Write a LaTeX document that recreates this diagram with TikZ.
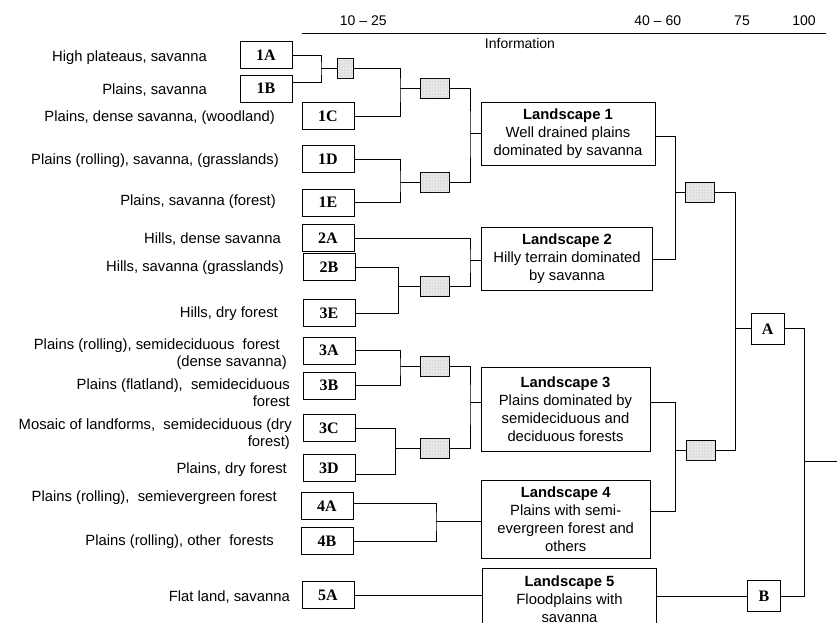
\documentclass[tikz,border=0pt]{standalone}
\usepackage{fontspec}
\setmainfont{Liberation Sans}
\newfontfamily\codefont{Liberation Serif}
\usetikzlibrary{patterns,calc}
\begin{document}
\begin{tikzpicture}[x=1pt,y=-1pt,
  every node/.style={inner sep=0pt},
  lab/.style={anchor=east, font=\fontsize{14.8}{17}\selectfont, align=right},
  code/.style={draw, line width=0.9pt, minimum width=52pt, minimum height=27pt, font=\codefont\bfseries\fontsize{16}{18}\selectfont},
  letterbox/.style={draw, line width=0.9pt, minimum width=33pt, minimum height=31pt, font=\codefont\bfseries\fontsize{16}{18}\selectfont},
  shd/.style={draw, line width=0.8pt, fill=gray!18, postaction={pattern=dots, pattern color=gray!75}, minimum height=20pt},
  land/.style={draw, line width=0.9pt, align=center, font=\fontsize{14.8}{18}\selectfont},
  conn/.style={line width=0.8pt},
  hdr/.style={font=\fontsize{14}{16}\selectfont}
]
\useasboundingbox (0,0) rectangle (837,622);
\clip (0,0) rectangle (837,622);

% header
\node[hdr] (t1) at (363.3,20.7) {10 -- 25};
\node[hdr] (t2) at (657.8,20.7) {40 -- 60};
\node[hdr] (t3) at (742,20.7) {75};
\node[hdr] (t4) at (804,20.7) {100};
\coordinate (axl) at (302,33.3);
\coordinate (axr) at (826,33.3);
\draw[conn] (axl) -- (axr);
\node[hdr] (info) at (520,43.3) {Information};

% code boxes
\node[code] (c1A) at (266,55) {1A};
\node[code] (c1B) at (266,88.5) {1B};
\node[code] (c1C) at (328,116) {1C};
\node[code] (c1D) at (328,159) {1D};
\node[code] (c1E) at (328,202.5) {1E};
\node[code] (c2A) at (328,238) {2A};
\node[code] (c2B) at (329,267) {2B};
\node[code] (c3E) at (329,313) {3E};
\node[code] (c3A) at (329,350.5) {3A};
\node[code] (c3B) at (329,385.5) {3B};
\node[code] (c3C) at (329,428) {3C};
\node[code] (c3D) at (329,468) {3D};
\node[code] (c4A) at (327,506) {4A};
\node[code] (c4B) at (327,541) {4B};
\node[code] (c5A) at (328,595) {5A};

% labels
\node[lab] (l1A) at (207,58) {High plateaus, savanna};
\node[lab] (l1B) at (207,90) {Plains, savanna};
\node[lab] (l1C) at (275,118) {Plains, dense savanna, (woodland)};
\node[lab] (l1D) at (279,161) {Plains (rolling), savanna, (grasslands)};
\node[lab] (l1E) at (276,202) {Plains, savanna (forest)};
\node[lab] (l2A) at (281,239) {Hills, dense savanna};
\node[lab] (l2B) at (284,268) {Hills, savanna (grasslands)};
\node[lab] (l3E) at (278,314) {Hills, dry forest};
\node[lab] (l3A) at (287,354) {Plains (rolling), semideciduous\ \ forest\kern7pt\\(dense savanna)};
\node[lab] (l3B) at (290,392.5) {Plains (flatland),\ \ semideciduous\\forest};
\node[lab] (l3C) at (292,434) {Mosaic of landforms,\ \ semideciduous (dry\\forest)\kern2pt};
\node[lab] (l3D) at (287,470) {Plains, dry forest};
\node[lab] (l4A) at (277,498) {Plains (rolling),\ \ semievergreen forest};
\node[lab] (l4B) at (274,541.7) {Plains (rolling), other\ \ forests};
\node[lab] (l5A) at (290,596.7) {Flat land, savanna};

% shaded boxes
\node[shd, minimum width=15.5pt] (s1) at (345.5,68) {};
\node[shd, minimum width=29pt] (s2) at (435.3,88) {};
\node[shd, minimum width=29pt] (s3) at (435.3,182) {};
\node[shd, minimum width=28.5pt] (s4) at (700,192.5) {};
\node[shd, minimum width=29pt] (s5) at (701,450.5) {};
\node[shd, minimum width=29pt] (s6) at (435.3,286.5) {};
\node[shd, minimum width=29pt] (s7) at (435.3,366) {};
\node[shd, minimum width=29pt] (s8) at (435.3,448) {};

% landscapes
\node[land, minimum width=174pt, minimum height=63.3pt] (L1) at (568,134) {\textbf{Landscape 1}\\Well drained plains\\dominated by savanna};
\node[land, minimum width=171.7pt, minimum height=63.7pt] (L2) at (567,259) {\textbf{Landscape 2}\\Hilly terrain dominated\\by savanna};
\node[land, minimum width=169pt, minimum height=84.7pt] (L3) at (565.5,409.5) {\textbf{Landscape 3}\\Plains dominated by\\semideciduous and\\deciduous forests};
\node[land, minimum width=169.3pt, minimum height=78pt] (L4) at (565.7,519) {\textbf{Landscape 4}\\Plains with semi-\\evergreen forest and\\others};
\node[land, minimum width=174.4pt, minimum height=62.7pt] (L5) at (569.5,599.5) {\textbf{Landscape 5}\\Floodplains with\\savanna};

% A and B
\node[letterbox] (A) at (767.7,328.8) {A};
\node[letterbox] (B) at (764,596) {B};

% junction coordinates
\coordinate (b1) at (321,68);
\coordinate (b2) at (400,88);
\coordinate (b3) at (400,182);
\coordinate (b4) at (470,133);
\coordinate (b5) at (675,192.5);
\coordinate (b6) at (470,260);
\coordinate (b7) at (735,328.8);
\coordinate (b8) at (398.3,286.5);
\coordinate (b9) at (804.3,461.7);
\coordinate (b10) at (400,366);
\coordinate (b11) at (395.7,448);
\coordinate (b12) at (470,402.5);
\coordinate (b13) at (675,450.5);
\coordinate (b14) at (436,521);
\coordinate (outR) at (837,461.7);

% connectors
\draw[conn] (c1A.east) -| (b1) |- ([yshift=6.5pt]c1B.east);
\draw[conn] (b1) -- (s1.west);
\draw[conn] (s1.east) -| (b2) |- (c1C.east);
\draw[conn] (b2) -- (s2.west);
\draw[conn] (c1D.east) -| (b3) |- (c1E.east);
\draw[conn] (b3) -- (s3.west);
\draw[conn] (s2.east) -| (b4) |- (s3.east);
\draw[conn] (b4) -- (L1.west |- b4);

\draw[conn] (c2A.east) -| (b6) |- (s6.east);
\draw[conn] (b6) -- (L2.west |- b6);
\draw[conn] (c2B.east) -| (b8) |- (c3E.east);
\draw[conn] (b8) -- (s6.west);

\draw[conn] (c3A.east) -| (b10) |- (c3B.east);
\draw[conn] (b10) -- (s7.west);
\draw[conn] (c3C.east) -| (b11) |- ([yshift=-6pt]c3D.east);
\draw[conn] (b11) -- (s8.west);
\draw[conn] (s7.east) -| (b12) |- (s8.east);
\draw[conn] (b12) -- (L3.west |- b12);

\draw[conn] ([yshift=2.5pt]c4A.east) -| (b14) |- (c4B.east);
\draw[conn] (b14) -- (L4.west |- b14);
\draw[conn] (c5A.east) -- (c5A.east -| L5.west);

\draw[conn] (L1.east |- 0,136.5) -| (b5) |- (L2.east);
\draw[conn] (b5) -- (s4.west);
\draw[conn] (L3.east |- 0,402.3) -| (b13) |- (L4.east |- 0,511);
\draw[conn] (b13) -- (s5.west);
\draw[conn] (s4.east) -| (b7) |- (s5.east);
\draw[conn] (b7) -- (A.west);
\draw[conn] (B.west -| L5.east) -- (B.west);
\draw[conn] (A.east) -| (b9) |- (B.east);
\draw[conn] (b9) -- (outR);
\end{tikzpicture}
\end{document}
